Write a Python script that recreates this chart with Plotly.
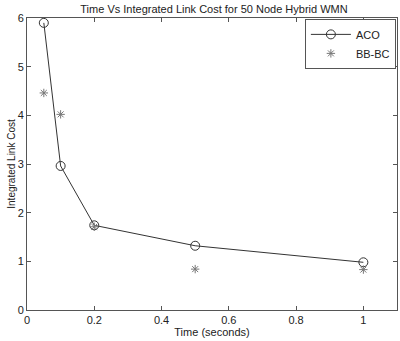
import plotly.graph_objects as go

time_s = [0.05, 0.1, 0.2, 0.5, 1.0]
aco = [5.9, 2.96, 1.74, 1.32, 0.98]
bbbc = [4.46, 4.02, 1.71, 0.84, 0.83]

fig = go.Figure()
fig.add_trace(go.Scatter(x=time_s, y=aco, name="ACO", mode="lines+markers",
                         line=dict(color="#333333", width=1),
                         marker=dict(symbol="circle-open", size=9, color="#333333", line=dict(width=1))))
fig.add_trace(go.Scatter(x=time_s, y=bbbc, name="BB-BC", mode="markers",
                         marker=dict(symbol="asterisk-open", size=7, color="#777777", line=dict(width=1, color="#777777"))))

axis_common = dict(showgrid=False, zeroline=False, showline=True, linecolor="#555555", linewidth=1,
                   mirror="ticks", ticks="inside", ticklen=4, tickcolor="#555555", automargin=False,
                   tickfont=dict(family="Liberation Sans, Arial", size=11, color="#222222"))
fig.update_layout(
    width=400, height=341,
    margin=dict(l=27, r=3, t=18, b=31),
    paper_bgcolor="white", plot_bgcolor="white",
    title=dict(text="Time Vs Integrated Link Cost for 50 Node Hybrid WMN", x=0.535, xanchor="center",
               yref="container", y=0.974, yanchor="middle", automargin=False,
               font=dict(family="Liberation Sans, Arial", size=11, color="#222222")),
    xaxis=dict(range=[0, 1.1], tickvals=[0, 0.2, 0.4, 0.6, 0.8, 1], ticktext=["0", "0.2", "0.4", "0.6", "0.8", "1"],
               title=dict(text="Time (seconds)", standoff=0, font=dict(family="Liberation Sans, Arial", size=11, color="#222222")),
               **axis_common),
    yaxis=dict(range=[0, 6], tickvals=[0, 1, 2, 3, 4, 5, 6],
               title=dict(text="Integrated Link Cost", standoff=0, font=dict(family="Liberation Sans, Arial", size=10, color="#222222")),
               **axis_common),
    legend=dict(x=0.997, y=0.997, xanchor="right", yanchor="top", bordercolor="#555555", borderwidth=1,
                bgcolor="white", font=dict(family="Liberation Sans, Arial", size=11, color="#222222"),
                itemwidth=40, tracegroupgap=0),
    showlegend=True,
)
fig.write_html("out.html", config={"displayModeBar": False},
               post_script="document.body.style.margin='0';document.body.style.overflow='hidden';")
